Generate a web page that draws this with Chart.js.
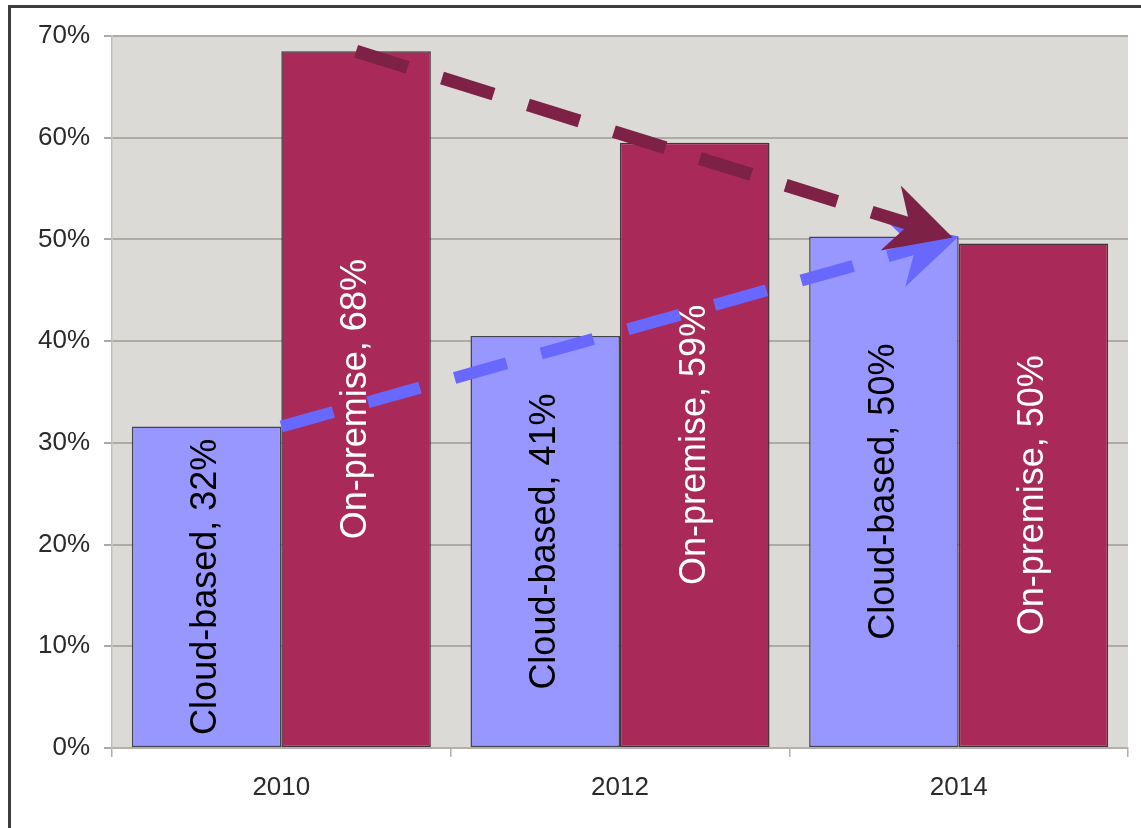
<!DOCTYPE html>
<html>
<head>
<meta charset="utf-8">
<script src="https://cdn.jsdelivr.net/npm/chart.js@4/dist/chart.umd.min.js"></script>
<style>
  html, body { margin: 0; padding: 0; background: #ffffff; overflow: hidden; }
  #wrap { position: relative; width: 1141px; height: 828px; }
  #frame { position: absolute; left: 8px; top: 5px; width: 1200px; height: 900px;
           border-left: 3px solid #3d3d3d; border-top: 3px solid #3d3d3d; pointer-events: none; }
</style>
</head>
<body>
<div id="wrap">
  <canvas id="c"></canvas>
  <div id="frame"></div>
</div>
<script>
// ---- data ----
const years = ["2010", "2012", "2014"];
const cloudValues = [31.6, 40.5, 50.3];
const onPremValues = [68.5, 59.5, 49.6];
const cloudLabels = ["Cloud-based, 32%", "Cloud-based, 41%", "Cloud-based, 50%"];
const onPremLabels = ["On-premise, 68%", "On-premise, 59%", "On-premise, 50%"];
const yTicks = [0, 10, 20, 30, 40, 50, 60, 70];

const bgPlugin = {
  id: 'plotBg',
  beforeDraw(chart) {
    const { ctx, chartArea: a } = chart;
    ctx.save();
    ctx.fillStyle = '#dcdad6';
    ctx.fillRect(a.left, a.top, a.right - a.left, a.bottom - a.top);
    ctx.restore();
  }
};

const labelPlugin = {
  id: 'barLabels',
  afterDatasetsDraw(chart) {
    const ctx = chart.ctx;
    const sets = [
      { meta: chart.getDatasetMeta(0), labels: cloudLabels, color: '#000000' },
      { meta: chart.getDatasetMeta(1), labels: onPremLabels, color: '#ffffff' }
    ];
    ctx.save();
    ctx.font = '36px "Liberation Sans", Arial, sans-serif';
    ctx.textAlign = 'center';
    ctx.textBaseline = 'middle';
    sets.forEach(s => {
      s.meta.data.forEach((bar, i) => {
        const cy = (bar.y + bar.base) / 2;
        ctx.save();
        ctx.translate(bar.x, cy);
        ctx.rotate(-Math.PI / 2);
        ctx.fillStyle = s.color;
        ctx.fillText(s.labels[i], 0, 0);
        ctx.restore();
      });
    });
    ctx.restore();
  }
};

function drawArrow(ctx, x0, y0, x1, y1, color, width) {
  const dx = x1 - x0, dy = y1 - y0;
  const len = Math.hypot(dx, dy);
  const ux = dx / len, uy = dy / len;
  const nx = -uy, ny = ux;
  const headBack = 65, headHalf = 34, notch = 45;
  const sx = x1 - ux * notch, sy = y1 - uy * notch;
  ctx.save();
  ctx.strokeStyle = color;
  ctx.lineWidth = width;
  ctx.lineCap = 'butt';
  ctx.setLineDash([54, 36]);
  ctx.beginPath();
  ctx.moveTo(x0, y0);
  ctx.lineTo(sx, sy);
  ctx.stroke();
  ctx.setLineDash([]);
  ctx.fillStyle = color;
  ctx.beginPath();
  ctx.moveTo(x1, y1);
  ctx.lineTo(x1 - ux * headBack + nx * headHalf, y1 - uy * headBack + ny * headHalf);
  ctx.lineTo(sx, sy);
  ctx.lineTo(x1 - ux * headBack - nx * headHalf, y1 - uy * headBack - ny * headHalf);
  ctx.closePath();
  ctx.fill();
  ctx.restore();
}

const arrowPlugin = {
  id: 'trendArrows',
  afterDatasetsDraw(chart) {
    const ctx = chart.ctx;
    const c = chart.getDatasetMeta(0).data;
    const o = chart.getDatasetMeta(1).data;
    const tipX = c[2].x + c[2].width / 2, tipY = c[2].y;
    drawArrow(ctx, c[0].x + c[0].width / 2, c[0].y, tipX, tipY, '#6868ff', 12);
    drawArrow(ctx, o[0].x, o[0].y, tipX - 6, tipY + 1, '#7d2147', 13);
  }
};

new Chart(document.getElementById('c'), {
  type: 'bar',
  data: {
    labels: years,
    datasets: [
      { label: 'Cloud-based', data: cloudValues, backgroundColor: '#9797ff',
        borderColor: '#44444f', borderWidth: 1.5, borderSkipped: false,
        categoryPercentage: 0.883, barPercentage: 1.0 },
      { label: 'On-premise', data: onPremValues, backgroundColor: '#a92a58',
        borderColor: '#45333a', borderWidth: 1.5, borderSkipped: false,
        categoryPercentage: 0.883, barPercentage: 1.0 }
    ]
  },
  options: {
    responsive: true,
    maintainAspectRatio: false,
    animation: false,
    layout: { padding: { left: 0, right: 13, top: 36, bottom: 0 } },
    plugins: { legend: { display: false }, tooltip: { enabled: false } },
    scales: {
      x: {
        offset: true,
        grid: { offset: true, drawOnChartArea: false, drawTicks: true, tickLength: 9,
                color: '#b3b0ab', lineWidth: 1.5 },
        border: { display: true, color: '#b3b0ab', width: 2 },
        ticks: { color: '#2a2a2a', padding: 15,
                 font: { family: '"Liberation Sans", Arial, sans-serif', size: 26 } },
        afterFit(scale) { scale.height = 80; }
      },
      y: {
        min: 0, max: 70,
        afterBuildTicks(scale) { scale.ticks = yTicks.map(v => ({ value: v })); },
        grid: { color: '#aeaaa5', lineWidth: 2, tickLength: 8, drawTicks: true },
        border: { display: true, color: '#c2bfba', width: 1.5 },
        ticks: { color: '#2a2a2a', padding: 14,
                 font: { family: '"Liberation Sans", Arial, sans-serif', size: 26 },
                 callback: v => v + '%' },
        afterFit(scale) { scale.width = 112; }
      }
    }
  },
  plugins: [bgPlugin, labelPlugin, arrowPlugin]
});
</script>
</body>
</html>
